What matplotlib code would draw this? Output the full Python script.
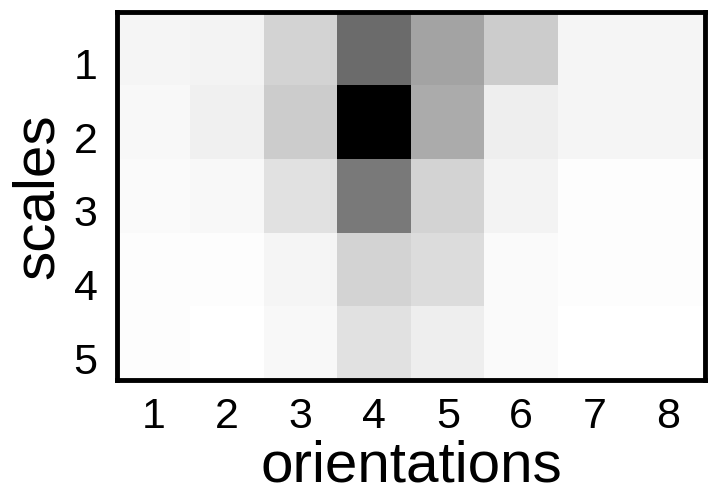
import matplotlib
matplotlib.use("Agg")
import matplotlib.pyplot as plt
import matplotlib.transforms as mtransforms
import numpy as np

orientations = [1, 2, 3, 4, 5, 6, 7, 8]
scales = [1, 2, 3, 4, 5]

row1 = [0.04, 0.05, 0.17, 0.58, 0.36, 0.20, 0.04, 0.04]
row2 = [0.03, 0.06, 0.20, 1.00, 0.33, 0.07, 0.04, 0.04]
row3 = [0.02, 0.03, 0.12, 0.52, 0.17, 0.05, 0.01, 0.01]
row4 = [0.01, 0.01, 0.04, 0.17, 0.14, 0.02, 0.01, 0.01]
row5 = [0.01, 0.00, 0.03, 0.12, 0.07, 0.02, 0.00, 0.00]

data = np.array([row1, row2, row3, row4, row5])

plt.rcParams['font.family'] = ['Liberation Sans', 'DejaVu Sans']

fig = plt.figure(figsize=(7.14, 4.95), dpi=100)
ax = fig.add_axes([117 / 714, 1 - 380 / 495, (705 - 117) / 714, (380 - 12) / 495])
ax.imshow(data, cmap='gray_r', vmin=0, vmax=1, aspect='auto', interpolation='nearest')

ax.set_xticks(range(len(orientations)))
ax.set_xticklabels([str(o) for o in orientations])
ax.set_yticks(range(len(scales)))
ax.set_yticklabels([str(s) for s in scales])
ax.tick_params(axis='both', length=0, labelsize=31)
ax.tick_params(axis='x', pad=12)
ax.tick_params(axis='y', pad=14)

offset = mtransforms.ScaledTranslation(0, -15 / 100, fig.dpi_scale_trans)
for lbl in ax.get_yticklabels():
    lbl.set_transform(lbl.get_transform() + offset)

ax.set_xlabel('orientations', fontsize=42, labelpad=2)
ax.set_ylabel('scales', fontsize=42, labelpad=6)

for sp in ax.spines.values():
    sp.set_linewidth(3.5)
    sp.set_color('black')

fig.savefig('out.png', dpi=100)
